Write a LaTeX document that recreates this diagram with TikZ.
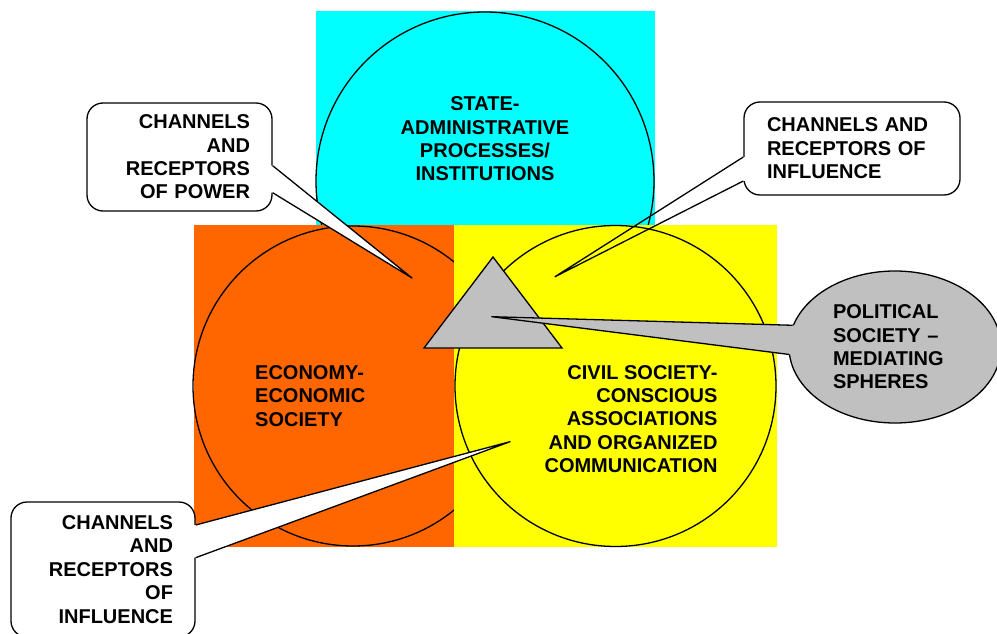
\documentclass[tikz,border=0pt]{standalone}
\usepackage{fontspec}
\setmainfont{Liberation Sans}
\usetikzlibrary{shapes.geometric,calc}
\definecolor{statecyan}{HTML}{00FFFF}
\definecolor{econorange}{HTML}{FF6600}
\definecolor{civilyellow}{HTML}{FFFF00}
\definecolor{polgray}{HTML}{C0C0C0}
\begin{document}
\begin{tikzpicture}[x=1pt,y=-1pt,
  lbl/.style={font=\fontsize{20}{23.4}\selectfont\bfseries, inner sep=0pt},
  outline/.style={draw=black, line width=1.3pt},
  bubble/.style={lbl, outline, fill=white, rounded corners=16pt},
  pointer/.style={outline, line join=round}]
% page frame
\clip (0,0) rectangle (997,634);
\fill[white] (0,0) rectangle (997,634);

% state sphere
\fill[statecyan] (316,11) rectangle (655,225);
\draw[outline] (485,181) circle[radius=169pt];
% economic sphere
\fill[econorange] (194,225) rectangle (454,547);
\draw[outline] (353,386) circle[radius=160pt];
% civil sphere
\fill[civilyellow] (454,225) rectangle (777,547);
\draw[outline] (615.5,386) circle[radius=160.5pt];

% sphere titles
\node[lbl, align=center] (state) at (485,139)
  {STATE-\\ADMINISTRATIVE\\PROCESSES/\\INSTITUTIONS};
\node[lbl, align=left, anchor=west] (econ) at (255,396)
  {ECONOMY-\\ECONOMIC\\SOCIETY};
\node[lbl, align=right, anchor=east] (civil) at (717.7,419)
  {CIVIL SOCIETY-\\CONSCIOUS\\ASSOCIATIONS\\AND ORGANIZED\\COMMUNICATION};

% mediating triangle
\coordinate (triL) at (424,348);
\coordinate (triR) at (562,348);
\coordinate (triT) at (493,257);
\draw[outline, fill=polgray, line join=miter] (triL) -- (triR) -- (triT) -- cycle;

% pointer tips
\coordinate (tipPower) at (412,278);
\coordinate (tipInflTop) at (555,276.7);
\coordinate (tipPol) at (491.7,316.7);
\coordinate (tipInflBot) at (510,441.7);

% channels and receptors of power
\node[bubble, minimum width=185pt, minimum height=108pt, text width=141pt,
      align=right, inner xsep=22pt] (power) at (179.5,157)
  {CHANNELS\\AND\\RECEPTORS\\OF POWER};
\coordinate (pwA) at ($(power.east)+(0,8.7)$);
\coordinate (pwB) at ($(power.east)+(0,35.7)$);
\fill[white] (pwA) -- (tipPower) -- (pwB) -- ($(pwB)+(-3,0)$) -- ($(pwA)+(-3,0)$) -- cycle;
\draw[pointer] (pwA) -- (tipPower) -- (pwB);

% channels and receptors of influence (top)
\node[bubble, minimum width=216pt, minimum height=93pt, text width=170pt,
      align=left, inner xsep=23pt] (inflTop) at (852,148.5)
  {CHANNELS AND\\RECEPTORS OF\\INFLUENCE};
\coordinate (itA) at ($(inflTop.west)+(0,8.5)$);
\coordinate (itB) at ($(inflTop.west)+(0,32.5)$);
\fill[white] ($(itA)+(-1,0)$) -- ($(itB)+(-1,0)$) -- ($(itB)+(3,0)$) -- ($(itA)+(3,0)$) -- cycle;
\draw[pointer] (itA) -- (tipInflTop) -- (itB);

% political society
\node[ellipse, lbl, outline, fill=polgray, minimum width=212pt, minimum height=152pt,
      text width=124pt, align=left] (pol) at (895,347)
  {POLITICAL\\SOCIETY --\\MEDIATING\\SPHERES};
\coordinate (plA) at (pol.168);
\coordinate (plB) at (pol.184);
\fill[polgray] (plA) -- (tipPol) -- (plB) -- ($(plB)+(10,0)$) -- ($(plA)+(10,0)$) -- cycle;
\draw[pointer] (plA) -- (tipPol) -- (plB);

% channels and receptors of influence (bottom)
\node[bubble, minimum width=184pt, minimum height=135pt, text width=140pt,
      align=right, inner xsep=22pt] (inflBot) at (103,569.5)
  {CHANNELS\\AND\\RECEPTORS\\OF\\INFLUENCE};
\coordinate (ibA) at ($(inflBot.east)+(0,-44.5)$);
\coordinate (ibB) at ($(inflBot.east)+(0,-11.8)$);
\fill[white] (ibA) -- (tipInflBot) -- (ibB) -- ($(ibB)+(-3,0)$) -- ($(ibA)+(-3,0)$) -- cycle;
\draw[pointer] (ibA) -- (tipInflBot) -- (ibB);
\end{tikzpicture}
\end{document}
